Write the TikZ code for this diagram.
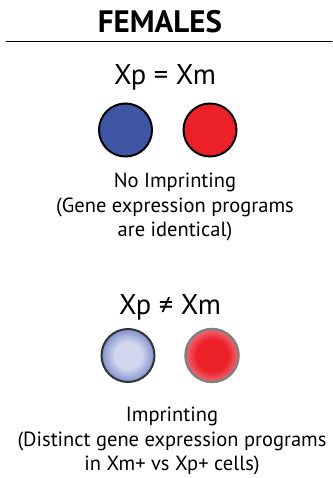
\documentclass[tikz,border=0pt]{standalone}
\usepackage{fontspec}
\setmainfont{PT Sans}
\usetikzlibrary{positioning}

\definecolor{Xpat}{RGB}{62,86,164}
\definecolor{Xmat}{RGB}{236,32,39}
\definecolor{XpatLight}{RGB}{208,214,235}
\definecolor{XpatEdge}{RGB}{128,144,206}
\definecolor{XmatEdge}{RGB}{241,104,115}

% soft-edged cells for the imprinted pair
\pgfdeclareradialshading{softpat}{\pgfpoint{0bp}{0bp}}{%
    color(0bp)=(XpatLight); color(13bp)=(XpatLight);
    color(25bp)=(XpatEdge); color(50bp)=(XpatEdge)}
\pgfdeclareradialshading{softmat}{\pgfpoint{0bp}{0bp}}{%
    color(0bp)=(Xmat); color(15bp)=(Xmat);
    color(25bp)=(XmatEdge); color(50bp)=(XmatEdge)}

\begin{document}
\begin{tikzpicture}[
    x=1pt, y=-1pt,
    line cap=round,
    every node/.style={font=\fontsize{20.5}{24.5}\selectfont, align=center},
    cell/.style={circle, minimum size=53pt, inner sep=0pt, line width=2pt},
    heading/.style={font=\fontsize{31}{34}\selectfont\bfseries},
    relation/.style={font=\fontsize{28.5}{32}\selectfont},
    caption/.style={anchor=north, inner sep=0pt},
]

\useasboundingbox (0,0) rectangle (332,478);

% ---------- header ----------
\node[heading] (title) at (160,21.5) {FEMALES};
\draw[line width=1pt] (6,42) -- (332,42);

% ---------- no imprinting: both X the same ----------
\node[relation, anchor=base] (same) at (165,85) {Xp = Xm};
\node[cell, draw=black, fill=Xpat] (patA) at (125.5,130) {};
\node[cell, draw=black, fill=Xmat] (matA) at (210,130) {};
\node[caption] (noimp) at (175,173)
    {No Imprinting\\(Gene expression programs\\are identical)};

% ---------- imprinting: soft-edged cells ----------
\node[relation, anchor=base] (differ) at (170,314) {Xp ≠ Xm};
\node[cell, draw=black!80, shading=softpat] (patB) at (128,355.5) {};
\node[cell, draw=black!50, line width=2.5pt, shading=softmat] (matB) at (212,355.5) {};
\node[caption] (imp) at (172,407)
    {Imprinting\\(Distinct gene expression programs\\in Xm+ vs Xp+ cells)};

\end{tikzpicture}
\end{document}
